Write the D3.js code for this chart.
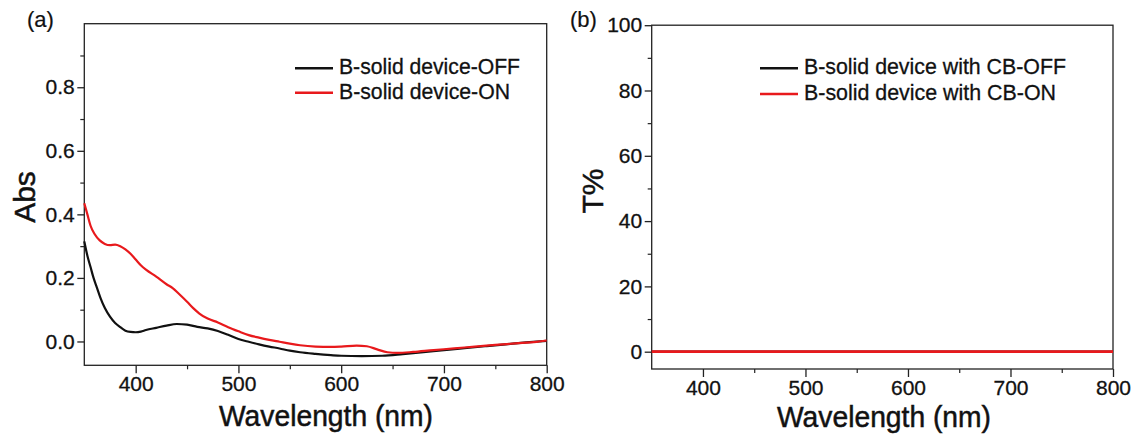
<!DOCTYPE html>
<html>
<head>
<meta charset="utf-8">
<script src="https://cdn.jsdelivr.net/npm/d3@7"></script>
<style>
  html, body { margin: 0; padding: 0; background: #fff; }
  svg { display: block; font-family: "Liberation Sans", Arial, sans-serif; }
</style>
</head>
<body>
<svg id="chart" width="1143" height="437"></svg>
<script>
// ---------- data: panel (a) ----------
const wlOffA = [350,353,356,359,362,366,370,375,380,385,390,395,400,405,410,420,430,440,450,460,470,480,490,500,510,520,530,540,550,560,575,590,600,620,640,660,680,700,720,740,760,780,800];
const absOffA = [0.315,0.27,0.235,0.20,0.172,0.135,0.105,0.078,0.058,0.045,0.034,0.030,0.029,0.031,0.036,0.043,0.050,0.055,0.053,0.046,0.041,0.033,0.021,0.008,-0.001,-0.009,-0.016,-0.022,-0.029,-0.034,-0.039,-0.043,-0.045,-0.046,-0.045,-0.040,-0.034,-0.027,-0.021,-0.015,-0.009,-0.003,0.002];
const wlOnA = [350,353,356,360,365,370,375,380,385,390,395,400,405,410,420,430,436,442,450,456,462,470,480,490,500,510,520,530,540,550,560,575,590,600,615,625,635,645,655,670,690,710,730,750,770,790,800];
const absOnA = [0.435,0.40,0.365,0.338,0.318,0.307,0.303,0.305,0.300,0.290,0.276,0.258,0.240,0.226,0.204,0.180,0.168,0.150,0.125,0.105,0.088,0.072,0.060,0.045,0.032,0.020,0.012,0.005,-0.001,-0.007,-0.012,-0.016,-0.017,-0.016,-0.013,-0.015,-0.025,-0.034,-0.036,-0.033,-0.027,-0.022,-0.016,-0.011,-0.006,-0.001,0.003];
const legendA = ["B-solid device-OFF", "B-solid device-ON"];

// ---------- data: panel (b) ----------
const wlB = [350,400,450,500,550,600,650,700,750,800];
const tOffB = [0,0,0,0,0,0,0,0,0,0];
const tOnB = [0,0,0,0,0,0,0,0,0,0];
const legendB = ["B-solid device with CB-OFF", "B-solid device with CB-ON"];

// ---------- ticks ----------
const xMajor = [400,500,600,700,800];
const xMinor = [450,550,650,750];
const yMajorA = [0.0,0.2,0.4,0.6,0.8];
const yMinorA = [0.1,0.3,0.5,0.7,0.9];
const yMajorB = [0,20,40,60,80,100];
const yMinorB = [10,30,50,70,90];

const BLACK = "#111";
const RED = "#e8191c";
const AXIS = "#222";
const TXT = "#111";

const svg = d3.select("#chart");

function heavy(sel, w) {
  return sel.attr("fill", TXT).attr("stroke", TXT).attr("stroke-width", w).attr("paint-order", "stroke");
}

function panel(cfg) {
  const g = svg.append("g");
  const x = d3.scaleLinear().domain([350, 800]).range([cfg.left, cfg.right]);
  const y = d3.scaleLinear().domain(cfg.yDomain).range([cfg.bottom, cfg.top]);

  // minor ticks
  g.append("g").attr("transform", `translate(0,${cfg.bottom})`)
    .call(d3.axisBottom(x).tickValues(xMinor).tickSize(4).tickSizeOuter(0).tickFormat(""))
    .call(a => a.select(".domain").remove())
    .call(a => a.selectAll("line").attr("stroke", AXIS).attr("stroke-width", 1.2));
  g.append("g").attr("transform", `translate(${cfg.left},0)`)
    .call(d3.axisLeft(y).tickValues(cfg.yMinor).tickSize(4).tickSizeOuter(0).tickFormat(""))
    .call(a => a.select(".domain").remove())
    .call(a => a.selectAll("line").attr("stroke", AXIS).attr("stroke-width", 1.2));

  // major ticks
  const xa = g.append("g").attr("transform", `translate(0,${cfg.bottom})`)
    .call(d3.axisBottom(x).tickValues(xMajor).tickSize(8).tickSizeOuter(0).tickPadding(3).tickFormat(d3.format("d")));
  xa.select(".domain").remove();
  xa.selectAll("line").attr("stroke", AXIS).attr("stroke-width", 1.3);
  heavy(xa.selectAll("text").attr("font-size", 21)
    .attr("font-family", "Liberation Sans, Arial, sans-serif"), 0.3);

  const ya = g.append("g").attr("transform", `translate(${cfg.left},0)`)
    .call(d3.axisLeft(y).tickValues(cfg.yMajor).tickSize(7).tickSizeOuter(0).tickPadding(2.5).tickFormat(cfg.yFormat));
  ya.select(".domain").remove();
  ya.selectAll("line").attr("stroke", AXIS).attr("stroke-width", 1.3);
  heavy(ya.selectAll("text").attr("font-size", 21)
    .attr("font-family", "Liberation Sans, Arial, sans-serif"), 0.3);

  // frame
  g.append("rect")
    .attr("x", cfg.left).attr("y", cfg.top)
    .attr("width", cfg.right - cfg.left).attr("height", cfg.bottom - cfg.top)
    .attr("fill", "none").attr("stroke", AXIS).attr("stroke-width", 1.3);

  // curves
  const line = d3.line().x(d => x(d[0])).y(d => y(d[1])).curve(d3.curveMonotoneX);
  cfg.series.forEach(s => {
    g.append("path")
      .datum(s.wl.map((w, i) => [w, s.v[i]]))
      .attr("d", line)
      .attr("fill", "none")
      .attr("stroke", s.color)
      .attr("stroke-width", s.width)
      .attr("stroke-linejoin", "round");
  });

  // legend
  cfg.legend.forEach((lab, i) => {
    const ly = cfg.legY[i];
    g.append("line")
      .attr("x1", cfg.legX).attr("x2", cfg.legX + 38)
      .attr("y1", ly).attr("y2", ly)
      .attr("stroke", cfg.series[i].color).attr("stroke-width", 2.4);
    heavy(g.append("text")
      .attr("x", cfg.legX + 44).attr("y", ly + 6)
      .attr("font-size", 22)
      .attr("textLength", cfg.legLen[i]).attr("lengthAdjust", "spacingAndGlyphs")
      .text(lab), 0.3);
  });

  // x title
  heavy(g.append("text")
    .attr("x", cfg.xTitleX).attr("y", cfg.xTitleY)
    .attr("font-size", 30)
    .attr("textLength", 214).attr("lengthAdjust", "spacingAndGlyphs")
    .text("Wavelength (nm)"), 0.5);

  // y title
  heavy(g.append("text")
    .attr("transform", `translate(${cfg.yTitleX},${cfg.yTitleY}) rotate(-90)`)
    .attr("text-anchor", "middle")
    .attr("font-size", cfg.yTitleSize)
    .text(cfg.yTitle), 0.5);

  // panel label
  heavy(g.append("text")
    .attr("x", cfg.labX).attr("y", 27)
    .attr("font-size", 22)
    .text(cfg.label), 0.2);
}

panel({
  left: 84.3, right: 546.7, top: 23.7, bottom: 365.3,
  yDomain: [-0.075, 1.0],
  yMajor: yMajorA, yMinor: yMinorA, yFormat: d3.format(".1f"),
  series: [
    { wl: wlOffA, v: absOffA, color: BLACK, width: 2.2 },
    { wl: wlOnA, v: absOnA, color: RED, width: 2.2 }
  ],
  legend: legendA, legX: 295, legY: [68.3, 92.7], legLen: [181, 171],
  xTitleX: 219, xTitleY: 426,
  yTitle: "Abs", yTitleX: 35, yTitleY: 197, yTitleSize: 30,
  label: "(a)", labX: 27
});

panel({
  left: 651.7, right: 1113, top: 25.2, bottom: 369,
  yDomain: [-5.3, 100],
  yMajor: yMajorB, yMinor: yMinorB, yFormat: d3.format("d"),
  series: [
    { wl: wlB, v: tOffB, color: BLACK, width: 2.2 },
    { wl: wlB, v: tOnB, color: RED, width: 2.8 }
  ],
  legend: legendB, legX: 760, legY: [68.3, 94], legLen: [262, 252],
  xTitleX: 777, xTitleY: 427,
  yTitle: "T%", yTitleX: 603, yTitleY: 191, yTitleSize: 30,
  label: "(b)", labX: 570
});
</script>
</body>
</html>
